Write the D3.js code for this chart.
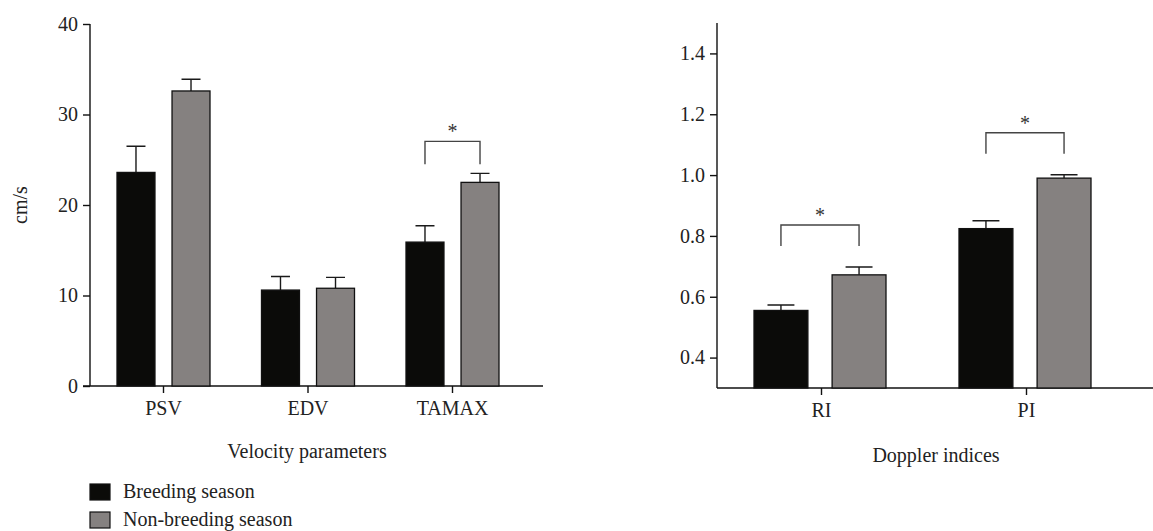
<!DOCTYPE html>
<html>
<head>
<meta charset="utf-8">
<script src="https://cdn.jsdelivr.net/npm/d3@7"></script>
<style>
  body { margin: 0; background: #fff; }
  svg text { font-family: "Liberation Serif", "Times New Roman", Times, "DejaVu Serif", serif; }
</style>
</head>
<body>
<svg id="chart" width="1153" height="531"></svg>
<script>
// data
const series = ["Breeding season", "Non-breeding season"];
const colors = ["#0b0b09", "#858180"];

const velocityCats = ["PSV", "EDV", "TAMAX"];
const velocityMean = [[23.6, 32.6], [10.6, 10.8], [15.9, 22.5]];
const velocityErr = [[2.9, 1.3], [1.5, 1.2], [1.8, 1.0]];
const velocityTicks = [0, 10, 20, 30, 40];
const velocitySig = ["TAMAX"];

const dopplerCats = ["RI", "PI"];
const dopplerMean = [[0.555, 0.672], [0.824, 0.990]];
const dopplerErr = [[0.018, 0.026], [0.026, 0.011]];
const dopplerTicks = [0.4, 0.6, 0.8, 1.0, 1.2, 1.4];
const dopplerSig = ["RI", "PI"];

const svg = d3.select("#chart");
const fs = 20;

function drawPanel(opt) {
    const g = svg.append("g");
    const y = d3.scaleLinear().domain(opt.yDomain).range([opt.bottom, opt.top]);
    const x = d3.scalePoint().domain(opt.cats).range(opt.xRange);
    const xs = d3.scaleBand().domain(series).range(opt.subRange).paddingInner(0.31);

    // y axis
    g.append("g")
        .attr("transform", `translate(${opt.left},0)`)
        .call(d3.axisLeft(y).tickValues(opt.ticks).tickSize(7).tickSizeOuter(0).tickPadding(5)
            .tickFormat(opt.fmt))
        .call(a => a.attr("font-family", null).attr("font-size", null))
        .call(a => a.select(".domain").attr("d", `M0,${opt.bottom}V${opt.top}`))
        .call(a => a.selectAll("line,path").attr("stroke", "#111").attr("stroke-width", 1.4))
        .call(a => a.selectAll("text").style("font-size", fs + "px").attr("fill", "#222"));

    // x axis
    g.append("g")
        .attr("transform", `translate(0,${opt.bottom})`)
        .call(d3.axisBottom(x).tickSize(7).tickSizeOuter(0).tickPadding(8))
        .call(a => a.attr("font-family", null).attr("font-size", null))
        .call(a => a.select(".domain").attr("d", `M${opt.xStart},0H${opt.right}`))
        .call(a => a.selectAll("line,path").attr("stroke", "#111").attr("stroke-width", 1.4))
        .call(a => a.selectAll("text").style("font-size", fs + "px").attr("fill", "#222"));

    const rows = [];
    opt.cats.forEach((c, i) => {
        series.forEach((s, j) => {
            rows.push({ cat: c, s: s, j: j, v: opt.mean[i][j], e: opt.err[i][j] });
        });
    });

    const bx = d => x(d.cat) + xs(d.s);
    const cx = d => bx(d) + xs.bandwidth() / 2;

    // error whiskers (upper only)
    const capW = xs.bandwidth() / 2;
    g.selectAll(".whisker").data(rows).enter().append("path")
        .attr("fill", "none")
        .attr("stroke", "#1a1a1a")
        .attr("stroke-width", 1.4)
        .attr("d", d => `M${cx(d)},${y(d.v)}V${y(d.v + d.e)}M${cx(d) - capW / 2},${y(d.v + d.e)}H${cx(d) + capW / 2}`);

    // bars
    g.selectAll(".bar").data(rows).enter().append("rect")
        .attr("x", bx)
        .attr("y", d => y(d.v))
        .attr("width", xs.bandwidth())
        .attr("height", d => y(opt.yDomain[0]) - y(d.v))
        .attr("fill", d => colors[d.j])
        .attr("stroke", "#111")
        .attr("stroke-width", 1.3);

    // significance brackets
    opt.sig.forEach(c => {
        const i = opt.cats.indexOf(c);
        const a = { cat: c, s: series[0] }, b = { cat: c, s: series[1] };
        const topVal = d3.max([0, 1], j => opt.mean[i][j] + opt.err[i][j]);
        const yLeg = y(topVal) - opt.legGap;
        const yTop = yLeg - opt.legH;
        g.append("path")
            .attr("fill", "none")
            .attr("stroke", "#444")
            .attr("stroke-width", 1.4)
            .attr("d", `M${cx(a)},${yLeg}V${yTop}H${cx(b)}V${yLeg}`);
        g.append("text")
            .attr("x", (cx(a) + cx(b)) / 2)
            .attr("y", yTop - 3)
            .attr("text-anchor", "middle")
            .style("font-size", "20px")
            .attr("fill", "#333")
            .text("*");
    });

    // axis title
    g.append("text")
        .attr("x", opt.titleX)
        .attr("y", opt.titleY)
        .attr("text-anchor", "middle")
        .style("font-size", fs + "px")
        .attr("fill", "#222")
        .text(opt.title);

    return g;
}

const left = drawPanel({
    cats: velocityCats, mean: velocityMean, err: velocityErr, ticks: velocityTicks,
    sig: velocitySig, yDomain: [0, 40], top: 24, bottom: 386, left: 90,
    xStart: 83, right: 543, xRange: [163, 452], subRange: [-46, 47],
    fmt: d3.format("d"), legGap: 9, legH: 23,
    title: "Velocity parameters", titleX: 307, titleY: 458
});

left.append("text")
    .attr("transform", "translate(27,205) rotate(-90)")
    .attr("text-anchor", "middle")
    .style("font-size", fs + "px")
    .attr("fill", "#222")
    .text("cm/s");

drawPanel({
    cats: dopplerCats, mean: dopplerMean, err: dopplerErr, ticks: dopplerTicks,
    sig: dopplerSig, yDomain: [0.3, 1.5], top: 23, bottom: 388, left: 717,
    xStart: 717, right: 1153, xRange: [821, 1026], subRange: [-67, 65],
    fmt: d3.format(".1f"), legGap: 21, legH: 21,
    title: "Doppler indices", titleX: 936, titleY: 462
});

// legend
const legend = svg.append("g").attr("transform", "translate(90,484)");
series.forEach((s, j) => {
    const row = legend.append("g").attr("transform", `translate(0,${j * 28})`);
    row.append("rect")
        .attr("width", 20).attr("height", 16)
        .attr("fill", colors[j])
        .attr("stroke", "#111").attr("stroke-width", 1.2);
    row.append("text")
        .attr("x", 33).attr("y", 14)
        .style("font-size", fs + "px")
        .attr("fill", "#222")
        .text(s);
});
</script>
</body>
</html>
